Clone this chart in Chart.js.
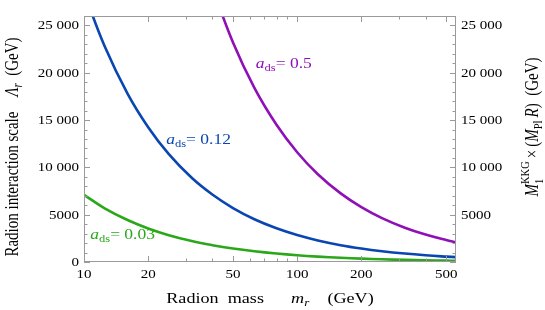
<!DOCTYPE html>
<html>
<head>
<meta charset="utf-8">
<script src="https://cdn.jsdelivr.net/npm/chart.js@4"></script>
<style>
  body { margin: 0; background: #fff; }
  canvas { display: block; }
</style>
</head>
<body>
<canvas id="grafico" width="545" height="310"></canvas>
<script>
// radion mass (GeV)
const masses = [10, 12.5, 16, 20, 25, 32, 40, 50, 63, 80, 100, 125, 160, 200, 250, 320, 400, 500, 556];

// Lambda_r (GeV) for each a_ds curve
const lambdaA003 = [7100, 5680, 4440, 3550, 2840, 2220, 1780, 1420, 1130, 890, 710, 570, 445, 355, 285, 222, 178, 142, 128];
const lambdaA012 = [28500, 22800, 17800, 14250, 11400, 8900, 7130, 5700, 4520, 3560, 2850, 2280, 1780, 1425, 1140, 890, 712, 570, 513];
const lambdaA05 = [null, null, null, null, null, null, 29000, 23200, 18400, 14500, 11600, 9280, 7250, 5800, 4640, 3625, 2900, 2320, 2090];

const curveNames = ['0.03', '0.12', '0.5'];
const curveColors = ['#2aa81a', '#0a46b2', '#8e10b6'];

// ticks
const xMajorTicks = [10, 20, 50, 100, 200, 500];
const xMinorTicks = [30, 40, 60, 70, 80, 90, 300, 400];
const yMajorTicks = [0, 5000, 10000, 15000, 20000, 25000];
const yMinorTicks = [1000, 2000, 3000, 4000, 6000, 7000, 8000, 9000, 11000, 12000, 13000, 14000,
                     16000, 17000, 18000, 19000, 21000, 22000, 23000, 24000];
const yRightLabels = [5000, 10000, 15000, 20000, 25000];

// where the a_ds labels sit (data coords)
const labelMass = [10.7, 24.3, 64];
const labelLambda = [2440, 12500, 20550];

const SERIF = '"Liberation Serif", "DejaVu Serif", serif';
const STRETCH = 1.25;

function fmtNum(v) {
    if (v < 10000) return String(v);
    let s = String(v);
    return s.slice(0, s.length - 3) + ' ' + s.slice(-3);
}

// draw text made of several parts (italic, sub, sup), stretched like the original
function drawRich(ctx, parts, x, y, align, angle, sx, sy) {
    let widths = parts.map(p => {
        ctx.font = (p.italic ? 'italic ' : '') + p.size + 'px ' + SERIF;
        return ctx.measureText(p.t).width;
    });
    let total = 0;
    parts.forEach((p, i) => {
        if (!p.stack) total += widths[i];
        else total += Math.max(0, widths[i] - widths[i - 1]);
    });
    ctx.save();
    ctx.translate(x, y);
    ctx.rotate(angle);
    ctx.scale(sx, sy);
    let cx = align === 'center' ? -total / 2 : align === 'right' ? -total : 0;
    let prevX = cx;
    parts.forEach((p, i) => {
        ctx.font = (p.italic ? 'italic ' : '') + p.size + 'px ' + SERIF;
        ctx.fillStyle = p.color || '#000';
        ctx.textBaseline = 'alphabetic';
        ctx.textAlign = 'left';
        let px = p.stack ? prevX : cx;
        ctx.fillText(p.t, px, p.dy || 0);
        if (p.stack) cx = Math.max(cx, prevX + widths[i]);
        else { prevX = cx; cx += widths[i]; }
    });
    ctx.restore();
}

const framePlugin = {
    id: 'frame',
    afterDatasetsDraw(chart) {
        const ctx = chart.ctx;
        const a = chart.chartArea;
        const xs = chart.scales.x;
        const ys = chart.scales.y;

        ctx.save();
        ctx.strokeStyle = '#9a9a9a';
        ctx.lineWidth = 1;
        ctx.strokeRect(Math.round(a.left) + 0.5, Math.round(a.top) + 0.5,
                       Math.round(a.right - a.left) - 1, Math.round(a.bottom - a.top) - 1);

        ctx.beginPath();
        const tickX = (v, len) => {
            let p = Math.round(xs.getPixelForValue(v)) + 0.5;
            ctx.moveTo(p, a.bottom); ctx.lineTo(p, a.bottom - len);
            ctx.moveTo(p, a.top); ctx.lineTo(p, a.top + len);
        };
        const tickY = (v, len) => {
            let p = Math.round(ys.getPixelForValue(v)) + 0.5;
            ctx.moveTo(a.left, p); ctx.lineTo(a.left + len, p);
            ctx.moveTo(a.right, p); ctx.lineTo(a.right - len, p);
        };
        xMajorTicks.forEach(v => tickX(v, 6));
        xMinorTicks.forEach(v => tickX(v, 3.5));
        yMajorTicks.forEach(v => tickY(v, 6));
        yMinorTicks.forEach(v => tickY(v, 3.5));
        ctx.stroke();
        ctx.restore();

        // tick labels
        xMajorTicks.forEach(v => {
            drawRich(ctx, [{ t: String(v), size: 12 }], xs.getPixelForValue(v), a.bottom + 15.5, 'center', 0, STRETCH, 1);
        });
        yMajorTicks.forEach(v => {
            drawRich(ctx, [{ t: fmtNum(v), size: 12 }], a.left - 5, ys.getPixelForValue(v) + 4, 'right', 0, STRETCH, 1);
        });
        yRightLabels.forEach(v => {
            drawRich(ctx, [{ t: fmtNum(v), size: 12 }], a.right + 5, ys.getPixelForValue(v) + 4, 'left', 0, STRETCH, 1);
        });

        // curve labels
        curveNames.forEach((n, i) => {
            let c = curveColors[i];
            drawRich(ctx, [
                { t: 'a', size: 14, italic: true, color: c },
                { t: 'ds', size: 10, dy: 3, color: c },
                { t: '= ' + n, size: 14, color: c }
            ], xs.getPixelForValue(labelMass[i]), ys.getPixelForValue(labelLambda[i]), 'left', 0, STRETCH, 1);
        });

        // axis titles
        drawRich(ctx, [
            { t: 'Radion\u2002mass\u2003\u2002', size: 14.5 },
            { t: 'm', size: 14.5, italic: true },
            { t: 'r', size: 10.5, italic: true, dy: 3 },
            { t: '\u2003(GeV)', size: 14.5 }
        ], (a.left + a.right) / 2, 303, 'center', 0, STRETCH, 1);

        drawRich(ctx, [
            { t: 'Radion interaction scale\u2002\u2002', size: 15 },
            { t: '\u039B', size: 15, italic: true },
            { t: 'r', size: 11, italic: true, dy: 3 },
            { t: '\u2002(GeV)', size: 15 }
        ], 18, (a.top + a.bottom) / 2 + 8, 'center', -Math.PI / 2, 1, STRETCH);

        drawRich(ctx, [
            { t: 'M', size: 15, italic: true },
            { t: '1', size: 10.5, dy: 4 },
            { t: 'KKG', size: 10.5, dy: -7, stack: true },
            { t: '\u2009\u00D7\u2009(', size: 15 },
            { t: 'M', size: 15, italic: true },
            { t: 'Pl', size: 10.5, dy: 3 },
            { t: '\u2009R', size: 15, italic: true },
            { t: ')\u2002(GeV)', size: 15 }
        ], 538, 127, 'center', -Math.PI / 2, 1, STRETCH);
    }
};

const lineSets = [lambdaA003, lambdaA012, lambdaA05].map((vals, i) => ({
    label: 'a_ds = ' + curveNames[i],
    data: masses.map((m, j) => ({ x: m, y: vals[j] })),
    borderColor: curveColors[i],
    borderWidth: 2.6,
    pointRadius: 0,
    fill: false,
    tension: 0.4,
    clip: 0
}));

new Chart(document.getElementById('grafico'), {
    type: 'line',
    data: { datasets: lineSets },
    options: {
        responsive: false,
        animation: false,
        devicePixelRatio: 1,
        layout: { padding: { left: 84, right: 89, top: 16, bottom: 48 } },
        plugins: { legend: { display: false }, tooltip: { enabled: false } },
        scales: {
            x: { type: 'logarithmic', min: 10, max: 556, display: false },
            y: { type: 'linear', min: 0, max: 26000, display: false }
        }
    },
    plugins: [framePlugin]
});
</script>
</body>
</html>
